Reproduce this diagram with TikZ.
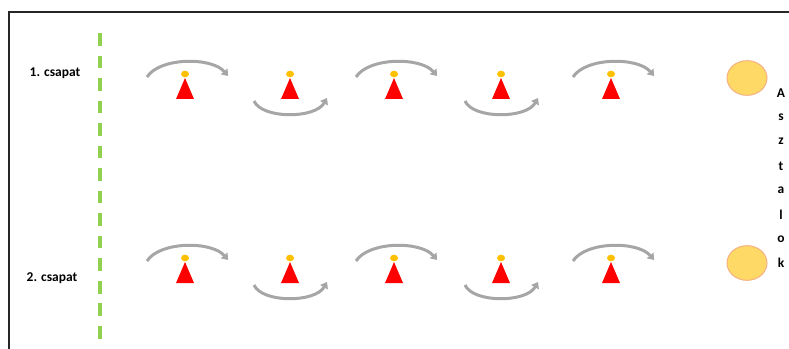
\documentclass[tikz,border=0pt]{standalone}
\usepackage{fontspec}
\setmainfont{Carlito}
\usetikzlibrary{arrows.meta,shapes.geometric}
\definecolor{dotc}{HTML}{FFC000}
\definecolor{arcc}{HTML}{A6A6A6}
\definecolor{dashc}{HTML}{92D050}
\definecolor{tablefill}{HTML}{FFD966}
\definecolor{tableedge}{HTML}{F4B183}
\tikzset{
  lbl/.style={font=\fontsize{10.1}{12}\selectfont\bfseries, inner sep=0pt},
  arcarrow/.style={draw=arcc, line width=2.25pt, -{Triangle[width=6.5pt,length=4.5pt]}},
  tablebox/.style={ellipse, draw=tableedge, fill=tablefill, line width=0.75pt,
    minimum width=30pt, minimum height=26pt, inner sep=0pt},
  player/.pic={
    \fill[red] (-9,25) -- (0,4) -- (9,25) -- cycle;
    \fill[dotc] (0,0) ellipse (4 and 3.3);
  },
  overarc/.pic={
    \draw[arcarrow] (-38,3) .. controls (-25,-17) and (27,-17) .. (43,2);
  },
  underarc/.pic={
    \draw[arcarrow] (-36,27) .. controls (-28,45) and (25,45) .. (37,24);
  }
}
\begin{document}
\begin{tikzpicture}[x=0.75pt,y=-0.75pt]
\useasboundingbox (0,0) rectangle (789,349);
% frame
\draw[line width=0.9pt, black!85] (9,349) -- (9,12) -- (789,12);
% dashed start line
\coordinate (ds) at (100,33);
\coordinate (de) at (100,339);
\draw[dashc, line width=2.4pt, dash pattern=on 9.5pt off 7.4pt] (ds) -- (de);
% team labels
\node[lbl] (team1) at (55,73.5) {1. csapat};
\node[lbl] (team2) at (52,278) {2. csapat};
% players
\foreach \r/\y in {1/74, 2/258}{
  \foreach \i/\x in {1/185, 2/290, 3/394, 4/501, 5/611}{
    \coordinate (p\r\i) at (\x,\y);
    \pic at (p\r\i) {player};
  }
  \pic at (p\r1) {overarc};
  \pic at (p\r3) {overarc};
  \pic at (p\r5) {overarc};
  \pic at (p\r2) {underarc};
  \pic at (p\r4) {underarc};
}
% tables
\node[tablebox] (t1) at (747,78) {};
\node[tablebox] (t2) at (747,263) {};
% vertical word
\foreach \c [count=\k from 0] in {A,s,z,t,a,l,o,k}{
  \node[lbl] (w\k) at (781,{93+\k*24.3}) {\c};
}
\end{tikzpicture}
\end{document}
